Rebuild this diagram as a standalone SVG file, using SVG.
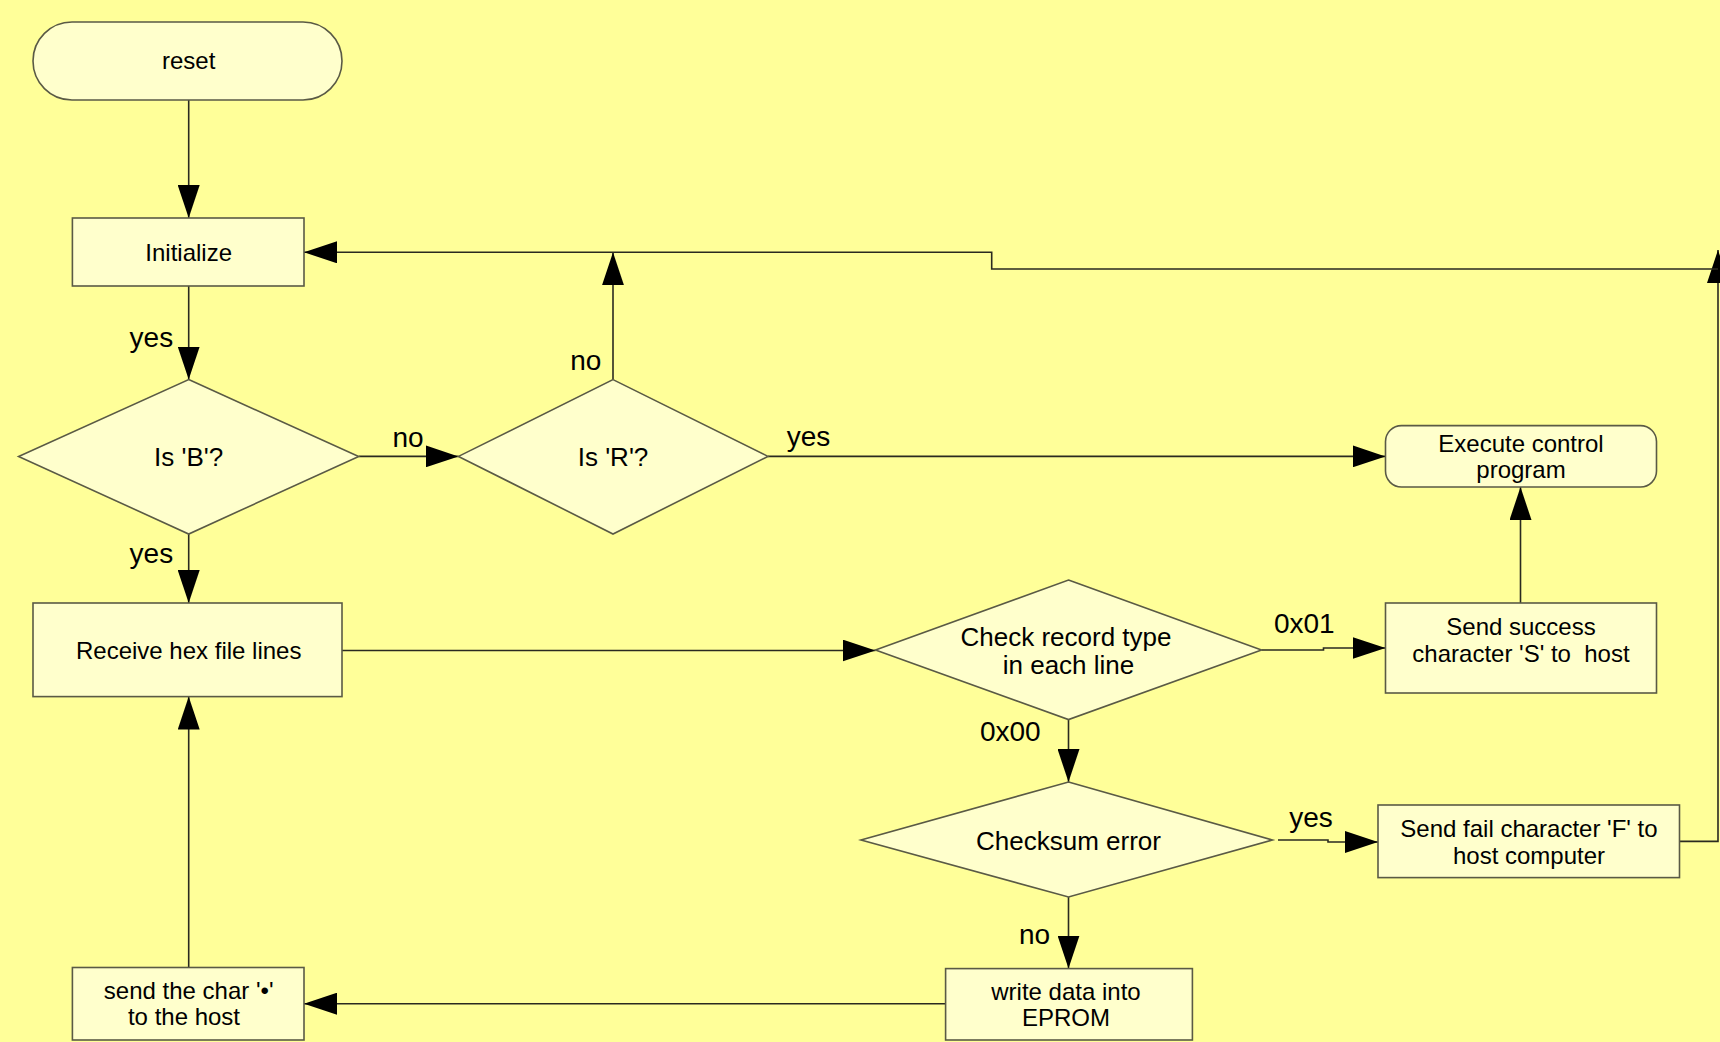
<svg xmlns="http://www.w3.org/2000/svg" width="1720" height="1042" viewBox="0 0 1720 1042">
<style>
.n{fill:#FFFFCC;stroke:#5a5a45;stroke-width:1.6}
.t{font-family:"Liberation Sans",Arial,sans-serif;font-size:24px;fill:#000;text-anchor:middle}
.d{font-size:26px}
.l{font-family:"Liberation Sans",Arial,sans-serif;font-size:28px;fill:#000;text-anchor:middle}
.c{fill:none;stroke:#2a2a20;stroke-width:1.6}
.p{white-space:pre}
</style>
<defs>
<marker id="ah" markerUnits="userSpaceOnUse" markerWidth="33" markerHeight="22" refX="33" refY="11" orient="auto">
<path d="M0,0 L33,11 L0,22 z" fill="#000"/>
</marker>
</defs>
<rect width="1720" height="1042" fill="#FFFF99"/>
<g id="connectors">
<path class="c" d="M188.7,100 L188.7,218" marker-end="url(#ah)"/>
<path class="c" d="M188.7,286 L188.7,379.6" marker-end="url(#ah)"/>
<path class="c" d="M358.7,456.4 L458.5,456.4" marker-end="url(#ah)"/>
<path class="c" d="M613,379.6 L613,252.3" marker-end="url(#ah)"/>
<path class="c" d="M768,456.4 L1385.5,456.4" marker-end="url(#ah)"/>
<path class="c" d="M188.7,534 L188.7,603" marker-end="url(#ah)"/>
<path class="c" d="M342,650.5 L875.5,650.5" marker-end="url(#ah)"/>
<path class="c" d="M1261.5,650 L1323.5,650 L1323.5,648 L1385.5,648" marker-end="url(#ah)"/>
<path class="c" d="M1520.5,603 L1520.5,487" marker-end="url(#ah)"/>
<path class="c" d="M1068.5,719.6 L1068.5,782" marker-end="url(#ah)"/>
<path class="c" d="M1278,840 L1328,840 L1328,842 L1378,842" marker-end="url(#ah)"/>
<path class="c" d="M1068.5,897 L1068.5,968.6" marker-end="url(#ah)"/>
<path class="c" d="M945.6,1003.7 L304,1003.7" marker-end="url(#ah)"/>
<path class="c" d="M188.7,967.5 L188.7,696.6" marker-end="url(#ah)"/>
<path class="c" d="M1679.5,841.4 L1718,841.4 L1718,250" marker-end="url(#ah)"/>
<path class="c" d="M1718,269 L991.7,269 L991.7,252.3 L304,252.3" marker-end="url(#ah)"/>
</g>
<g id="reset">
<rect class="n" x="33" y="22" width="309" height="78" rx="39" ry="39"/>
<text class="t" x="188.7" y="68.7">reset</text>
</g>
<g id="initialize">
<rect class="n" x="72.4" y="218" width="231.6" height="68"/>
<text class="t" x="188.7" y="260.7">Initialize</text>
</g>
<g id="isB">
<polygon class="n" points="188.7,379.6 358.7,456.4 188.7,534 18.6,456.4"/>
<text class="t d" x="188.7" y="465.7">Is 'B'?</text>
</g>
<g id="isR">
<polygon class="n" points="613,379.6 768,456.4 613,534 458.5,456.4"/>
<text class="t d" x="613" y="465.7">Is 'R'?</text>
</g>
<g id="execute">
<rect class="n" x="1385.5" y="425.6" width="271" height="61.4" rx="16" ry="16"/>
<text class="t" x="1521" y="451.6">Execute control</text>
<text class="t" x="1521" y="478">program</text>
</g>
<g id="receive">
<rect class="n" x="33" y="603" width="309" height="93.6"/>
<text class="t" x="188.7" y="659">Receive hex file lines</text>
</g>
<g id="check">
<polygon class="n" points="1068.5,580 1261.5,650 1068.5,719.6 875.5,650"/>
<text class="t d" x="1066" y="645.6">Check record type</text>
<text class="t d" x="1068.5" y="674">in each line</text>
</g>
<g id="success">
<rect class="n" x="1385.5" y="603" width="271" height="90"/>
<text class="t" x="1521" y="634.8">Send success</text>
<text class="t p" x="1521" y="662.2" xml:space="preserve">character 'S' to  host</text>
</g>
<g id="checksum">
<polygon class="n" points="1068.5,782 1272.5,840 1068.5,897 861,840"/>
<text class="t d" x="1068.5" y="849.6">Checksum error</text>
</g>
<g id="fail">
<rect class="n" x="1378" y="805" width="301.5" height="72.6"/>
<text class="t" x="1529" y="836.6">Send fail character 'F' to</text>
<text class="t" x="1529" y="864">host computer</text>
</g>
<g id="write">
<rect class="n" x="945.6" y="968.6" width="246.8" height="71.4"/>
<text class="t" x="1066" y="1000">write data into</text>
<text class="t" x="1066" y="1026.4">EPROM</text>
</g>
<g id="sendchar">
<rect class="n" x="72.4" y="967.5" width="231.6" height="72.5"/>
<text class="t" x="188.7" y="999">send the char '•'</text>
<text class="t" x="184" y="1025.4">to the host</text>
</g>
<g id="labels">
<text class="l" x="151.4" y="347">yes</text>
<text class="l" x="408" y="446.6">no</text>
<text class="l" x="585.8" y="370">no</text>
<text class="l" x="808.5" y="445.5">yes</text>
<text class="l" x="151.4" y="563">yes</text>
<text class="l" x="1304.3" y="633">0x01</text>
<text class="l" x="1010.3" y="740.6">0x00</text>
<text class="l" x="1311" y="827.3">yes</text>
<text class="l" x="1034.5" y="943.5">no</text>
</g>
</svg>
